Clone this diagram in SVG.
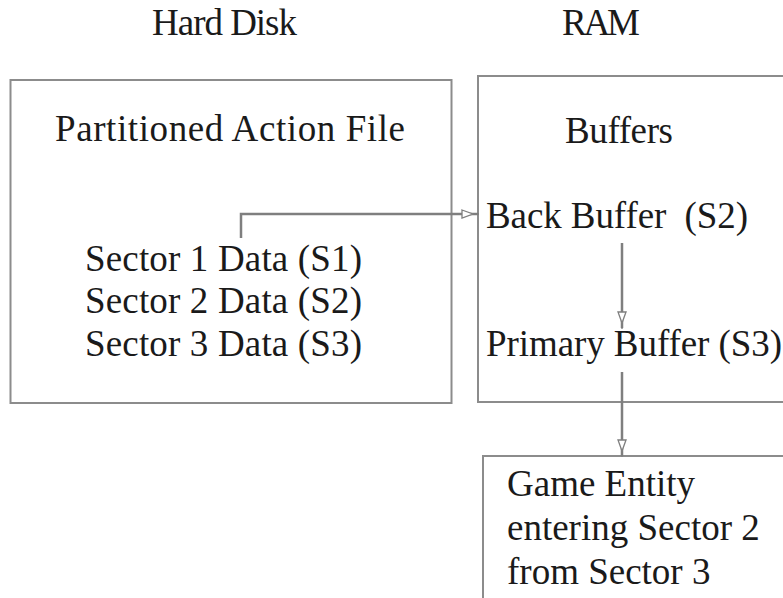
<svg xmlns="http://www.w3.org/2000/svg" width="783" height="598" viewBox="0 0 783 598">
<style>
.t{font-family:'Liberation Serif', 'Times New Roman', Times, serif;font-size:37px;fill:#1a1a1a}
.box{fill:#fff;stroke:#8c8c8c;stroke-width:2}
.conn{fill:none;stroke:#7f7f7f;stroke-width:2.5}
</style>
<defs>
<marker id="ah" viewBox="0 0 18 10" refX="17" refY="5" markerWidth="18" markerHeight="10" markerUnits="userSpaceOnUse" orient="auto">
<path d="M1,1 L12,5 L1,9 Z M12,5 H18" fill="#fff" stroke="#7f7f7f" stroke-width="1.3"/>
</marker>
</defs>
<rect width="783" height="598" fill="#fff"/>
<g class="t">
<text x="152" y="35" textLength="145">Hard Disk</text>
<text x="562" y="35" textLength="78">RAM</text>
</g>
<g id="hard-disk" class="t">
<rect class="box" x="10.5" y="80" width="441" height="323"/>
<text x="55" y="141" textLength="350">Partitioned Action File</text>
<text x="85" y="271" textLength="277">Sector 1 Data (S1)</text>
<text x="85" y="313" textLength="277">Sector 2 Data (S2)</text>
<text x="85" y="356" textLength="277">Sector 3 Data (S3)</text>
</g>
<g id="ram" class="t">
<rect class="box" x="478" y="76" width="310" height="326"/>
<text x="565" y="143" textLength="108">Buffers</text>
<text x="486" y="228" xml:space="preserve" textLength="262">Back Buffer  (S2)</text>
<text x="486" y="356" textLength="296">Primary Buffer (S3)</text>
</g>
<g id="game-entity" class="t">
<rect class="box" x="483" y="456" width="310" height="150"/>
<text x="507" y="496">Game Entity</text>
<text x="507" y="540">entering Sector 2</text>
<text x="507" y="584">from Sector 3</text>
</g>
<g id="connectors">
<path class="conn" d="M241,238 V214 H478" marker-end="url(#ah)"/>
<path class="conn" d="M622,243 V328" marker-end="url(#ah)"/>
<path class="conn" d="M622,372 V456" marker-end="url(#ah)"/>
</g>
</svg>
